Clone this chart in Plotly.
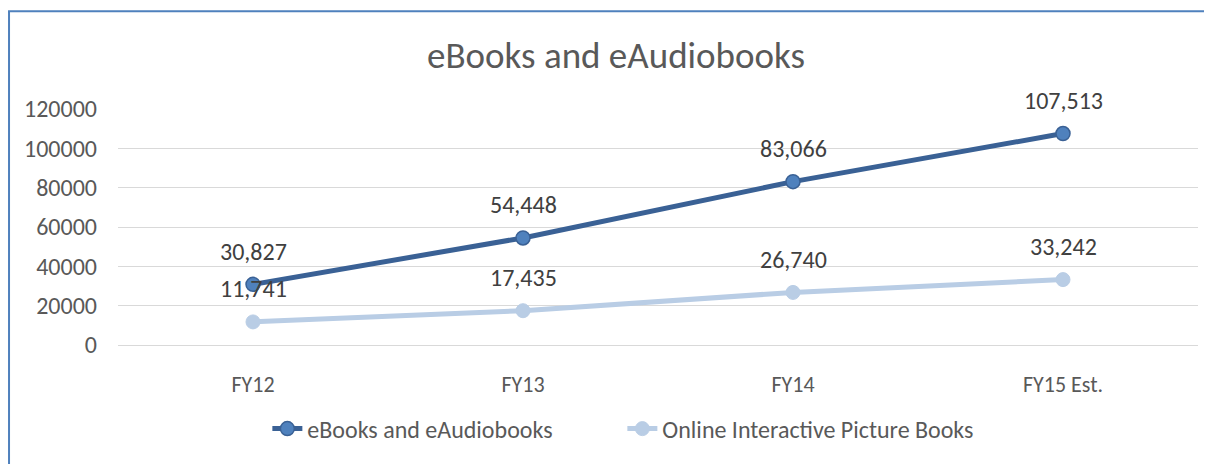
import plotly.graph_objects as go

categories = ["FY12", "FY13", "FY14", "FY15 Est."]
ebooks = [30827, 54448, 83066, 107513]
picture_books = [11741, 17435, 26740, 33242]
y_ticks = [0, 20000, 40000, 60000, 80000, 100000, 120000]

FONT = "Carlito, Lato, 'Open Sans', sans-serif"
GREY = "#595959"

fig = go.Figure()
fig.add_trace(go.Scatter(
    x=categories, y=ebooks, name="eBooks and eAudiobooks", mode="lines+markers",
    line=dict(color="#3A6195", width=5),
    marker=dict(size=14, color="#4F81BD", line=dict(color="#3A6195", width=1.5)),
))
fig.add_trace(go.Scatter(
    x=categories, y=picture_books, name="Online Interactive Picture Books", mode="lines+markers",
    line=dict(color="#B9CDE5", width=5),
    marker=dict(size=14, color="#B9CDE5", line=dict(color="#B9CDE5", width=1)),
))

for series in (ebooks, picture_books):
    for c, v in zip(categories, series):
        fig.add_annotation(x=c, y=v, text=f"{v:,}", showarrow=False, yshift=33,
                           font=dict(size=24, color="#404040", family=FONT))

fig.update_layout(
    width=1204, height=456,
    margin=dict(l=110, r=14, t=101, b=116),
    paper_bgcolor="white", plot_bgcolor="white",
    font=dict(family=FONT, color=GREY, size=22),
    title=dict(text="eBooks and eAudiobooks", x=0.505, xanchor="center", y=0.897, yanchor="middle",
               font=dict(size=37, color=GREY, family=FONT)),
    showlegend=True,
    legend=dict(orientation="h", x=0.467, xanchor="center", y=-0.356, yanchor="middle",
                entrywidth=310, font=dict(size=24, color=GREY, family=FONT)),
    xaxis=dict(range=[-0.5, 3.5], showgrid=False, showline=True, linecolor="#D9D9D9",
               linewidth=1, ticks="", tickfont=dict(size=22, color=GREY), ticklabelstandoff=20),
    yaxis=dict(range=[0, 120000], tickvals=y_ticks, ticktext=[str(t) for t in y_ticks],
               showgrid=True, gridcolor="#D9D9D9", gridwidth=1, zeroline=False,
               tickfont=dict(size=24, color=GREY), ticklabelstandoff=20),
    shapes=[dict(type="rect", xref="paper", yref="paper", x0=-0.1009, x1=1.2,
                 y0=-1.0, y1=1.414, line=dict(color="#4F81BD", width=2), layer="below")],
)

fig.write_html("out.html")
